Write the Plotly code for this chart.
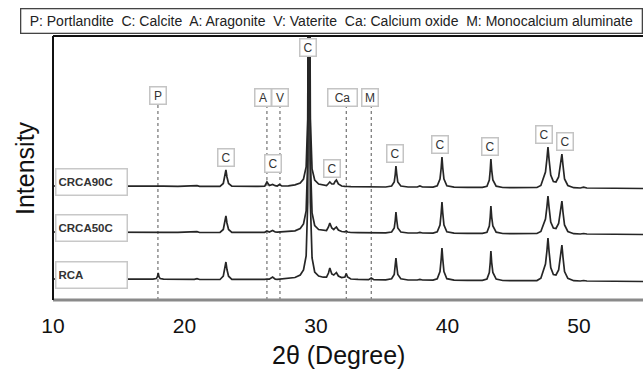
import plotly.graph_objects as go

# ---------------- data ----------------
# common 2-theta grid (degrees)
two_theta = [
    10.0, 12.0, 14.0, 16.0,
    17.6, 17.85, 17.95, 18.0, 18.05, 18.15, 18.4,
    19.5, 20.75, 20.95, 21.15, 22.4,
    22.7, 22.95, 23.07, 23.15, 23.23, 23.35, 23.6,
    24.5, 25.6,
    26.1, 26.27, 26.45, 26.7, 26.9, 27.05, 27.22, 27.4,
    27.9, 28.4, 28.8, 29.05, 29.25, 29.37, 29.47, 29.57, 29.7, 29.9, 30.2, 30.55,
    30.8, 30.95, 31.05, 31.2, 31.35, 31.45, 31.55, 31.7, 31.95, 32.2, 32.3, 32.4, 32.65,
    33.2, 34.0, 34.2, 34.4,
    35.3, 35.75, 35.95, 36.03, 36.08, 36.14, 36.22, 36.45, 37.0,
    37.7, 37.9, 38.1, 38.8,
    38.9, 39.22, 39.43, 39.52, 39.58, 39.64, 39.73, 39.95, 40.5,
    41.5, 42.3,
    42.65, 43.0, 43.18, 43.25, 43.3, 43.36, 43.45, 43.7, 44.2,
    45.0, 46.3,
    46.8, 47.1, 47.3, 47.45, 47.56, 47.64, 47.72, 47.85, 48.05, 48.25, 48.45, 48.6, 48.7, 48.78, 48.9, 49.15, 49.6,
    50.1, 50.35, 50.6, 52.0, 52.6, 53.5, 55.0,
]

intensity_crca90c = [
    3.0, 3.2, 2.9, 2.9,
    2.8, 2.9, 3.1, 3.3, 3.1, 2.9, 2.8,
    2.7, 2.7, 3.4, 2.6, 2.6,
    2.6, 5.5, 12.0, 19.0, 12.0, 5.5, 2.8,
    2.5, 2.6,
    2.8, 7.0, 3.5, 4.5, 3.3, 3.0, 4.5, 3.0,
    3.2, 4.2, 6.0, 10.0, 22.0, 70.0, 400.0, 70.0, 20.0, 9.0, 5.0, 4.0,
    3.5, 5.5, 7.0, 5.0, 5.0, 7.5, 9.0, 5.0, 3.0, 2.6, 2.8, 2.5, 2.3,
    2.2, 2.1, 2.3, 2.1,
    2.0, 3.0, 7.0, 15.0, 23.0, 15.0, 7.0, 3.0, 2.0,
    2.0, 3.0, 2.0, 1.9,
    1.9, 3.2, 10.0, 21.0, 32.0, 21.0, 10.0, 3.2, 1.8,
    1.6, 1.6,
    1.6, 2.8, 9.0, 19.0, 30.0, 19.0, 9.0, 2.8, 1.5,
    1.3, 1.4,
    1.5, 3.5, 12.0, 17.0, 30.0, 42.0, 30.0, 14.0, 7.5, 7.0, 12.0, 24.0, 35.0, 24.0, 10.0, 3.5, 1.3,
    1.0, 1.8, 1.0, 0.8, 1.3, 0.6, 0.5,
]

intensity_crca50c = [
    3.0, 3.1, 2.9, 2.8,
    2.8, 2.8, 3.0, 3.2, 3.0, 2.8, 2.7,
    2.6, 2.6, 3.3, 2.5, 2.5,
    2.5, 5.5, 12.0, 19.0, 12.0, 5.5, 2.7,
    2.5, 2.5,
    2.7, 4.0, 3.0, 4.5, 3.0, 2.8, 3.0, 2.8,
    3.2, 4.2, 6.5, 11.0, 24.0, 75.0, 400.0, 75.0, 22.0, 9.5, 5.5, 4.5,
    4.5, 8.0, 12.0, 7.0, 5.5, 7.0, 8.0, 5.0, 3.5, 3.2, 4.0, 3.0, 2.5,
    2.3, 2.2, 2.4, 2.2,
    2.1, 3.0, 7.0, 15.0, 23.0, 15.0, 7.0, 3.0, 2.0,
    2.0, 2.6, 2.0, 1.9,
    1.9, 3.2, 10.0, 22.0, 33.0, 22.0, 10.0, 3.2, 1.8,
    1.7, 1.6,
    1.6, 2.8, 9.0, 18.0, 29.0, 18.0, 9.0, 2.8, 1.5,
    1.4, 1.4,
    1.5, 3.5, 11.0, 16.0, 28.0, 39.0, 28.0, 13.0, 7.0, 6.5, 11.5, 23.0, 34.0, 23.0, 10.0, 3.5, 1.3,
    1.0, 1.5, 1.0, 0.8, 1.0, 0.6, 0.5,
]

intensity_rca = [
    3.0, 3.2, 3.0, 2.9,
    2.8, 3.4, 5.5, 9.0, 5.5, 3.4, 2.8,
    2.6, 2.6, 3.4, 2.5, 2.5,
    2.5, 5.8, 12.5, 20.0, 12.5, 5.8, 2.7,
    2.5, 2.5,
    2.6, 3.0, 2.9, 5.0, 2.8, 2.6, 2.8, 2.8,
    3.3, 4.5, 7.0, 12.0, 26.0, 80.0, 400.0, 80.0, 24.0, 10.0, 6.0, 4.8,
    4.8, 9.0, 14.0, 8.0, 7.0, 8.0, 9.5, 6.0, 4.5, 5.0, 8.5, 5.0, 3.0,
    2.6, 2.3, 4.0, 2.3,
    2.2, 3.2, 7.5, 16.0, 24.0, 16.0, 7.5, 3.2, 2.0,
    2.0, 2.6, 2.0, 1.9,
    1.9, 3.3, 10.5, 23.0, 34.0, 23.0, 10.5, 3.3, 1.8,
    1.6, 1.6,
    1.6, 2.9, 9.5, 19.5, 31.0, 19.5, 9.5, 2.9, 1.5,
    1.3, 1.4,
    1.4, 3.8, 12.0, 18.0, 31.0, 44.0, 31.0, 14.5, 7.5, 7.0, 12.0, 25.0, 37.0, 25.0, 10.5, 3.6, 1.3,
    1.0, 1.5, 1.0, 0.8, 1.0, 0.6, 0.5,
]

sample_names = ["CRCA90C", "CRCA50C", "RCA"]
sample_offsets = [111, 65, 18]          # vertical stacking of the patterns

# phase reference lines (dotted) and their labels
phase_labels = ["P", "A", "V", "Ca", "M"]
phase_line_x = [17.98, 26.27, 27.26, 32.3, 34.2]
phase_label_x = [17.98, 25.97, 27.26, 32.05, 34.1]

# calcite peak labels
calcite_label_x = [29.39, 23.16, 26.73, 31.22, 36.0, 39.43, 43.23, 47.34, 48.94]

x_ticks = [10, 20, 30, 40, 50]
legend_text = ("P: Portlandite  C: Calcite  A: Aragonite  V: Vaterite  "
               "Ca: Calcium oxide  M: Monocalcium aluminate")

# ---------------- layout geometry ----------------
W, H = 643, 371
L, R, T, B = 53, 0, 36, 71
PLOT_H = H - T - B          # 264 px
X_MIN = 10.0
X_MAX = 10.0 + (W - L - R) / 13.15

def py(px):
    """pixel row -> y data value (1 unit = 1 px)"""
    return (T + PLOT_H) - px

REG = "Liberation Sans, Arial, sans-serif"

fig = go.Figure()
series = [intensity_crca90c, intensity_crca50c, intensity_rca]
for name, off, vals in zip(sample_names, sample_offsets, series):
    fig.add_trace(go.Scatter(
        x=two_theta, y=[v + off for v in vals], mode="lines", name=name,
        line=dict(color="#262626", width=1.7), showlegend=False, hoverinfo="skip"))

shapes = []
# dotted phase lines
for i, xv in enumerate(phase_line_x):
    shapes.append(dict(type="line", xref="x", yref="y", x0=xv, x1=xv,
                       y0=0, y1=py(106 if i else 104),
                       line=dict(color="#555555", width=1, dash="dot"), layer="below"))
# frame
shapes.append(dict(type="line", xref="paper", yref="paper", x0=0, x1=1, y0=0, y1=0,
                   line=dict(color="#8a8a8a", width=3)))
shapes.append(dict(type="line", xref="paper", yref="paper", x0=0, x1=1, y0=1, y1=1,
                   line=dict(color="#111111", width=2)))
shapes.append(dict(type="line", xref="paper", yref="paper", x0=0, x1=0, y0=0, y1=1,
                   line=dict(color="#111111", width=2)))

ann = []
def box(text, x, ypx, w=13):
    ann.append(dict(text=text, x=x, y=py(ypx), xref="x", yref="y", showarrow=False,
                    xanchor="center", yanchor="middle",
                    font=dict(family=REG, size=12, color="#333333"),
                    bgcolor="white", bordercolor="#c4c4c4", borderwidth=1.5,
                    borderpad=1, width=w, height=14))

for lab, xv in zip(phase_labels, phase_label_x):
    box(lab, xv, 95 if lab == "P" else 97, w=26 if lab == "Ca" else 13)
for xv, ypx in zip(calcite_label_x, [47, 157, 163, 168, 153, 144, 146, 134, 141]):
    box("C", xv, ypx)

# sample name boxes
for name, ypx in zip(sample_names, [182, 228, 274.5]):
    ann.append(dict(text="<b>%s</b>" % name, x=1.5 / (W - L), y=py(ypx), xref="paper", yref="y",
                    showarrow=False, xanchor="left", yanchor="middle", align="left",
                    font=dict(family=REG, size=11.5, color="#333333"),
                    bgcolor="white", bordercolor="#c8c8c8", borderwidth=1.5,
                    borderpad=2, width=66, height=21))

# top legend box
ann.append(dict(text=legend_text, x=(20 - L) / (W - L), y=(T + PLOT_H - 21) / PLOT_H,
                xref="paper", yref="paper", showarrow=False, xanchor="left", yanchor="middle",
                font=dict(family=REG, size=14, color="#222222"),
                bgcolor="white", bordercolor="#444444", borderwidth=1.3,
                borderpad=1, width=618, height=21, align="center"))

# axis titles
ann.append(dict(text="Intensity", x=(25 - L) / (W - L), y=(T + PLOT_H - 168) / PLOT_H,
                xref="paper", yref="paper", showarrow=False, textangle=-90,
                xanchor="center", yanchor="middle",
                font=dict(family=REG, size=25, color="#111111")))
ann.append(dict(text="2θ (Degree)", x=(338 - L) / (W - L), y=(T + PLOT_H - 355) / PLOT_H,
                xref="paper", yref="paper", showarrow=False,
                xanchor="center", yanchor="middle",
                font=dict(family=REG, size=25, color="#111111")))

fig.update_layout(
    width=W, height=H, margin=dict(l=L, r=R, t=T, b=B, pad=0),
    paper_bgcolor="white", plot_bgcolor="white",
    shapes=shapes, annotations=ann,
    xaxis=dict(range=[X_MIN, X_MAX], tickvals=x_ticks, ticktext=[str(t) for t in x_ticks],
               showgrid=False, zeroline=False, showline=False, ticks="",
               ticklabelstandoff=11,
               tickfont=dict(family=REG, size=21, color="#111111")),
    yaxis=dict(range=[0, PLOT_H], showgrid=False, zeroline=False, showline=False,
               showticklabels=False, ticks=""),
)

fig.write_html("out.html")
